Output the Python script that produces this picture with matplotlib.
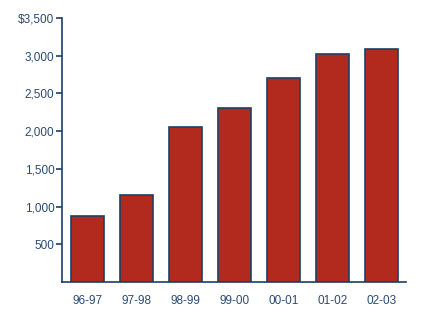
import matplotlib.pyplot as plt

years = ['96-97', '97-98', '98-99', '99-00', '00-01', '01-02', '02-03']
amounts = [880, 1160, 2050, 2310, 2700, 3020, 3090]
yticks = [500, 1000, 1500, 2000, 2500, 3000, 3500]
ylabels = ['500', '1,000', '1,500', '2,000', '2,500', '3,000', '$3,500']

navy = '#1c3f66'
textcol = '#2a4a72'
plt.rcParams['font.family'] = ['Liberation Sans', 'DejaVu Sans']

fig = plt.figure(figsize=(4.23, 3.18), dpi=100)
ax = fig.add_axes([62/423, 36/318, 344/423, 264/318])
ax.bar(range(len(years)), amounts, width=0.67, color='#b2291d', edgecolor=navy, linewidth=1.2)

ax.set_xlim(-0.52, 6.5)
ax.set_ylim(0, 3500)
ax.set_xticks(range(len(years)))
ax.set_xticklabels(years)
ax.set_yticks(yticks)
ax.set_yticklabels(ylabels)
ax.tick_params(axis='x', length=0, pad=9, labelsize=8.5, labelcolor=textcol)
ax.tick_params(axis='y', length=4, width=1.2, color=navy, pad=1.5, labelsize=8.5, labelcolor=textcol)

for s in ['top', 'right']:
    ax.spines[s].set_visible(False)
for s in ['left', 'bottom']:
    ax.spines[s].set_color(navy)
    ax.spines[s].set_linewidth(1.2)

fig.savefig('out.png', dpi=100)
